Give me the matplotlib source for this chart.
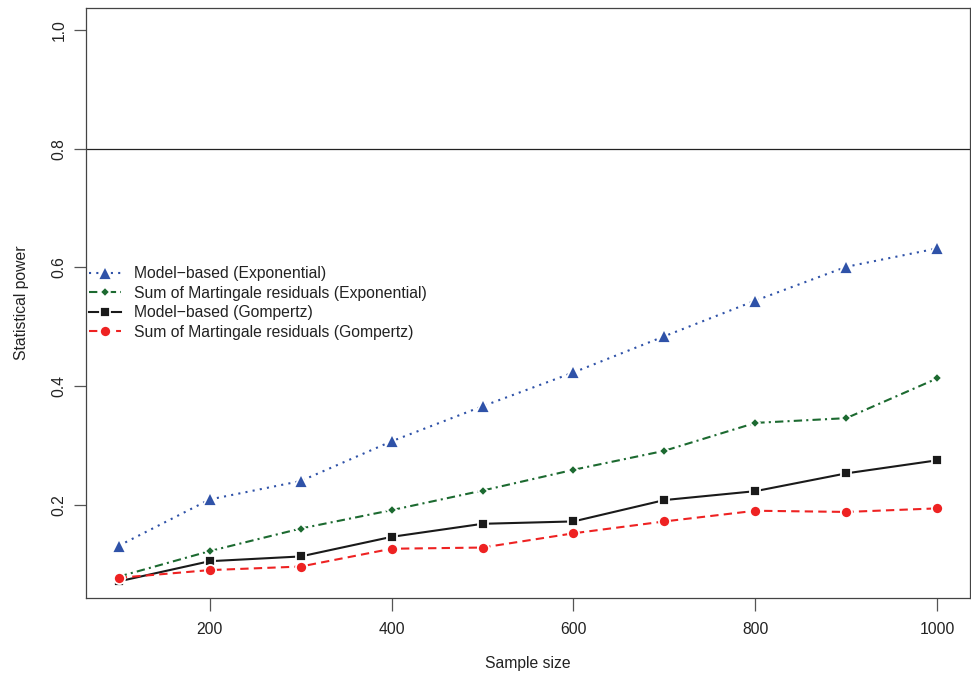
import matplotlib
matplotlib.use("Agg")
import matplotlib.pyplot as plt

plt.rcParams['font.family'] = ['Liberation Sans', 'DejaVu Sans']

sample_size = [100, 200, 300, 400, 500, 600, 700, 800, 900, 1000]
model_exp = [0.131, 0.209, 0.240, 0.307, 0.366, 0.423, 0.484, 0.544, 0.601, 0.632]
mart_exp = [0.079, 0.122, 0.160, 0.191, 0.224, 0.259, 0.291, 0.338, 0.346, 0.413]
model_gomp = [0.071, 0.105, 0.113, 0.146, 0.168, 0.172, 0.208, 0.223, 0.253, 0.275]
mart_gomp = [0.077, 0.090, 0.096, 0.126, 0.128, 0.152, 0.172, 0.190, 0.188, 0.194]

labels = ["Model\u2212based (Exponential)",
          "Sum of Martingale residuals (Exponential)",
          "Model\u2212based (Gompertz)",
          "Sum of Martingale residuals (Gompertz)"]
x_ticks = [200, 400, 600, 800, 1000]
y_ticks = [0.2, 0.4, 0.6, 0.8, 1.0]
threshold = 0.8

FS = 11.3
fig = plt.figure(figsize=(9.71, 6.80), dpi=100)
ax = fig.add_axes([86/971, 82/680, (970-86)/971, (598-8)/680])

ax.axhline(threshold, color='#222222', lw=0.9, zorder=1)

common = dict(lw=1.5, markeredgecolor='white', markeredgewidth=1.3, zorder=3)
ax.plot(sample_size, model_exp, color='#2f52a8', ls=(0, (1, 2.5)), marker='^', ms=9.5,
        label=labels[0], **common)
ax.plot(sample_size, mart_exp, color='#1c6a30', ls=(0, (4, 2, 1, 2)), marker='D', ms=5.5,
        label=labels[1], **common)
ax.plot(sample_size, model_gomp, color='#1a1a1a', ls='-', marker='s', ms=7.8,
        label=labels[2], **common)
ax.plot(sample_size, mart_gomp, color='#ee2222', ls=(0, (4, 2.5)), marker='o', ms=8,
        label=labels[3], **common)

ax.set_xlim(64, 1036)
ax.set_ylim(0.043, 1.037)
ax.set_xticks(x_ticks)
ax.set_xticklabels([str(v) for v in x_ticks])
ax.set_yticks(y_ticks)
ax.set_yticklabels([f"{v:.1f}" for v in y_ticks], rotation=90, va='center')
ax.tick_params(direction='out', length=9, width=0.9, colors='#555555',
               labelcolor='#222222', labelsize=FS)
ax.tick_params(axis='x', pad=8)
ax.tick_params(axis='y', pad=5)
for s in ax.spines.values():
    s.set_color('#444444')
    s.set_linewidth(0.9)

ax.set_xlabel("Sample size", fontsize=FS, color='#222222', labelpad=14)
ax.set_ylabel("Statistical power", fontsize=FS, color='#222222', labelpad=16)

leg = ax.legend(loc='center left', bbox_to_anchor=(0.0, 0.5), frameon=False,
                fontsize=FS, handlelength=2.05, handletextpad=0.8,
                labelspacing=0.28, borderaxespad=0.1, borderpad=0.1)
for t in leg.get_texts():
    t.set_color('#222222')

fig.savefig("out.png", dpi=100)
